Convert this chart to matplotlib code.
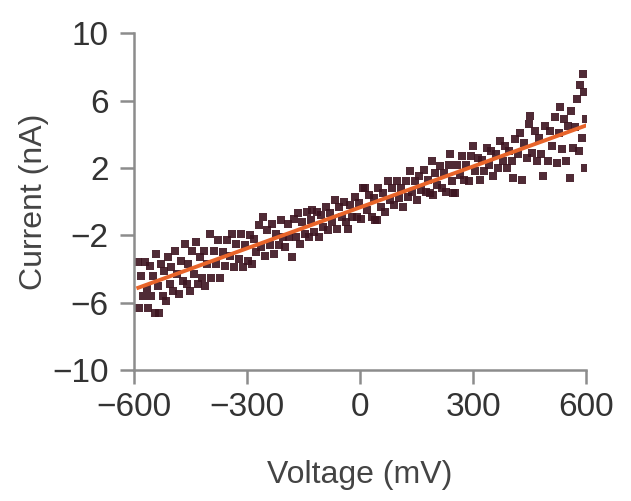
import matplotlib
matplotlib.use('Agg')
import matplotlib.pyplot as plt
import numpy as np

# voltage (mV) and current (nA)
voltage = [
    -590, -585, -580, -576, -571, -566, -562, -557, -553, -549, -545, -541, -537, -532,
    -528, -523, -519, -514, -510, -505, -500, -495, -490, -485, -480, -475, -470, -465,
    -460, -455, -450, -445, -440, -435, -430, -425, -420, -415, -410, -405, -398,
    -394, -388, -382, -376, -370, -364, -358, -352, -346, -340, -334, -328, -322, -316,
    -310, -304, -298, -292, -287, -281, -275, -269, -263, -258, -252, -246, -240, -234,
    -228, -222, -216, -210, -204,
    -198, -192, -187, -181, -175, -170, -165, -159, -153, -147, -141, -135, -129, -127,
    -121, -115, -109, -103, -97, -91, -85, -79, -73, -67, -61, -55, -49, -43, -37, -32,
    -26, -20, -14, -8, -2,
    4, 8, 13, 19, 25, 31, 37, 40, 45, 49, 55, 61, 67, 73, 79, 85, 91, 97, 103, 109, 115,
    121, 127, 133, 139, 145, 151, 157, 163, 169, 175, 181, 187, 191, 194, 199,
    205, 211, 217, 223, 229, 235, 239, 245, 247, 252, 258, 264, 270, 276, 282, 288, 294,
    300, 306, 312, 318, 324, 330, 336, 342, 348, 354, 360, 366, 372, 378, 384, 390, 396,
    402, 406, 412, 418, 424, 430, 436, 442, 448, 451, 457, 463, 469, 475, 481, 486, 492,
    498, 504, 510, 516, 522, 527, 531, 536, 541, 546, 551, 557, 561, 566, 571, 576, 580,
    584, 588, 592, 595, 598, 600,
]
current = [
    -3.6, -6.3, -4.4, -5.6, -3.6, -5.1, -6.3, -3.8, -5.6, -4.4, -6.6, -3.1, -5.0, -6.6,
    -3.7, -5.6, -4.1, -5.9, -3.3, -4.9, -3.9, -5.3, -2.9, -4.3, -5.5, -3.5, -4.7, -2.5,
    -4.9, -3.7, -5.3, -2.9, -4.3, -2.4, -4.9, -3.3, -4.5, -2.9, -5.0, -3.7, -1.9,
    -4.5, -2.9, -3.7, -2.3, -4.5, -3.0, -3.8, -2.3, -3.2, -1.9, -3.9, -2.5, -3.4, -1.9,
    -3.9, -2.6, -3.5, -2.0, -3.7, -2.2, -3.0, -1.4, -2.7, -0.9, -3.2, -1.7, -2.6, -1.3,
    -3.1, -1.9, -2.6, -1.1, -2.1,
    -2.7, -1.3, -2.1, -3.3, -1.0, -2.1, -0.7, -2.5, -1.2, -1.9, -0.6, -2.1, -1.1, -0.5,
    -1.8, -0.6, -2.1, -0.8, -1.5, -0.3, -1.7, -0.7, -1.2, 0.1, -1.6, -0.3, -0.9, 0.0, -1.2, -1.6,
    -0.2, -0.9, 0.3, -0.9, -0.1,
    -1.0, 0.8, 0.8, -0.5, 0.4, -0.9, 0.2, -1.1, -1.1, 0.8, -0.3, 0.5, -0.6, 1.2, 0.1, 0.8, -0.2,
    1.2, 0.2, 0.8, -0.3, 1.2, 0.3, 1.8, 0.6, 1.2, 0.1, 1.5, 0.7, 1.9, 0.6, 1.3, 0.5, 2.4, 0.4, 1.7,
    1.0, 2.1, 0.8, 1.7, 0.6, 2.2, 2.8, 1.2, 0.5, 0.5, 2.2, 1.6, 2.7, 1.3, 2.2, 1.2, 2.7,
    3.3, 1.8, 2.6, 1.3, 2.5, 1.8, 3.2, 2.2, 3.0, 1.5, 2.8, 2.0, 3.6, 2.4, 3.3, 2.0, 3.0,
    2.4, 1.4, 3.7, 2.8, 4.1, 1.3, 3.5, 2.6, 4.6, 5.1, 2.9, 4.2, 2.4, 3.8, 2.8, 1.5, 4.5,
    2.4, 4.2, 3.3, 5.0, 2.3, 4.1, 5.6, 3.1, 4.9, 2.4, 4.5, 1.4, 5.4, 3.2, 4.4, 6.1, 3.0,
    6.9, 3.8, 7.6, 6.5, 2.0, 4.9,
]

x_ticks = [-600, -300, 0, 300, 600]
y_ticks = [-10, -6, -2, 2, 6, 10]

plt.rcParams['font.family'] = ['Liberation Sans', 'DejaVu Sans']

fig = plt.figure(figsize=(6.31, 5.01), dpi=100)
ax = fig.add_axes([0.212, 0.261, 0.717, 0.673])

v = np.array(voltage)
c = np.array(current)
ax.scatter(v, c, s=26, color='#3d1420', marker='s', linewidths=0, alpha=0.9, zorder=2)

# linear fit
slope, icpt = np.polyfit(v, c, 1)
fx = np.array([-588, 600])
ax.plot(fx, slope * fx + icpt, color='#e8642a', lw=2.8, zorder=3)

ax.set_xlim(-600, 600)
ax.set_ylim(-10, 10)
ax.set_xticks(x_ticks)
ax.set_yticks(y_ticks)

for s in ['top', 'right']:
    ax.spines[s].set_visible(False)
for s in ['left', 'bottom']:
    ax.spines[s].set_color('#8c8c8c')
    ax.spines[s].set_linewidth(1.8)

ax.tick_params(axis='both', length=10, width=1.8, color='#8c8c8c',
               labelsize=24, labelcolor='#333333')
ax.tick_params(axis='y', pad=8)
ax.tick_params(axis='x', pad=6)

ax.set_xlabel('Voltage (mV)', fontsize=23, color='#444444', labelpad=26)
ax.set_ylabel('Current (nA)', fontsize=23, color='#444444', labelpad=2)

fig.savefig('out.png', dpi=100)
